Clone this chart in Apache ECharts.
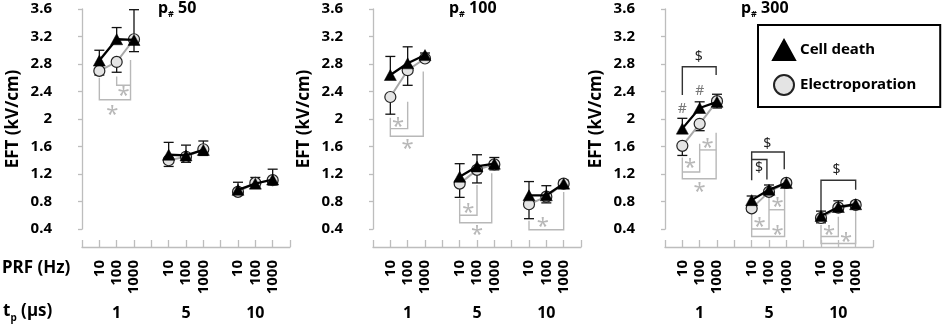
<!DOCTYPE html>
<html>
<head>
<meta charset="utf-8">
<script src="https://cdn.jsdelivr.net/npm/echarts@6/dist/echarts.min.js"></script>
<style>
  html, body { margin: 0; padding: 0; background: #fff; }
  #chart { width: 948px; height: 326px; }
</style>
</head>
<body>
<div id="chart"></div>
<script>
var prfLabels = ['10', '100', '1000'];
var pulseLabels = ['1', '5', '10'];
var pulseCounts = ['50', '100', '300'];
var positions = [1, 2, 3, 5, 6, 7, 9, 10, 11];
var groupCenters = [2, 6, 10];

// p# 50
var cellDeath50 = [2.85, 3.16, 3.15, 1.48, 1.47, 1.55, 0.97, 1.06, 1.12];
var cellDeathErr50 = [0.15, 0.17, 0.44, 0.18, 0.15, 0.13, 0.11, 0.09, 0.15];
var electro50 = [2.70, 2.83, 3.16, 1.40, 1.45, 1.56, 0.94, 1.07, 1.11];
var electroErr50 = [0.06, 0.15, 0.18, 0.09, 0.08, 0.09, 0.04, 0.05, 0.07];
// p# 100
var cellDeath100 = [2.64, 2.81, 2.93, 1.16, 1.31, 1.35, 0.89, 0.89, 1.06];
var cellDeathErr100 = [0.27, 0.24, 0.03, 0.19, 0.17, 0.09, 0.20, 0.14, 0.05];
var electro100 = [2.32, 2.71, 2.88, 1.06, 1.26, 1.34, 0.76, 0.87, 1.06];
var electroErr100 = [0.25, 0.22, 0.02, 0.20, 0.19, 0.08, 0.21, 0.09, 0.04];
// p# 300
var cellDeath300 = [1.86, 2.16, 2.25, 0.82, 0.97, 1.07, 0.59, 0.72, 0.76];
var cellDeathErr300 = [0.15, 0.09, 0.11, 0.06, 0.07, 0.04, 0.07, 0.09, 0.04];
var electro300 = [1.61, 1.93, 2.26, 0.70, 0.94, 1.07, 0.56, 0.71, 0.75];
var electroErr300 = [0.14, 0.10, 0.10, 0.04, 0.05, 0.03, 0.07, 0.05, 0.04];

// significance brackets (x position, EFT level)
var grayBrackets50 = [
    [[1, 2.60], [1, 2.28], [2.8, 2.28], [2.8, 2.86]],
    [[2, 2.62], [2, 2.49], [2.8, 2.49]]
];
var stars50 = [[1.75, 2.13], [2.4, 2.41]];

var grayBrackets100 = [
    [[1, 2.02], [1, 1.75], [2.9, 1.75], [2.9, 2.69]],
    [[2, 2.25], [2, 1.86], [1, 1.86]],
    [[5, 0.84], [5, 0.49], [6.85, 0.49], [6.85, 1.21]],
    [[6, 1.04], [6, 0.60], [5, 0.60]],
    [[9, 0.52], [9, 0.39], [11, 0.39], [11, 0.94]]
];
var stars100 = [[2, 1.64], [1.45, 1.96], [6, 0.39], [5.5, 0.71], [9.8, 0.51]];

var grayBrackets300 = [
    [[1, 1.44], [1, 1.13], [2.95, 1.13], [2.95, 1.80]],
    [[1, 1.23], [2, 1.23], [2, 1.64]],
    [[2, 1.55], [2.95, 1.55]],
    [[5, 0.62], [5, 0.29], [6.9, 0.29], [6.9, 1.02]],
    [[5, 0.40], [6, 0.40], [6, 0.87]],
    [[6, 0.68], [6.9, 0.68]],
    [[9, 0.46], [9, 0.19], [11, 0.19], [11, 0.67]],
    [[9, 0.29], [10, 0.29], [10, 0.58]]
];
var stars300 = [[2, 1.01], [1.45, 1.36], [2.45, 1.66], [5.46, 0.51], [6.49, 0.80], [6.49, 0.39], [9.47, 0.39], [10.45, 0.29]];
var blackBrackets300 = [
    [[1, 2.35], [1, 2.76], [2.95, 2.76], [2.95, 2.64]],
    [[5, 1.11], [5, 1.52], [6.88, 1.52], [6.88, 1.27]],
    [[5, 1.41], [5.88, 1.41], [5.88, 1.12]],
    [[9, 0.63], [9, 1.11], [11, 1.11], [11, 0.97]]
];
var dollars300 = [[1.95, 2.90], [5.9, 1.64], [5.42, 1.29], [9.9, 1.26]];
var hashes300 = [[1, 2.14], [2, 2.40]];

var panels = [
    {count: pulseCounts[0], cd: cellDeath50, cdErr: cellDeathErr50, ep: electro50, epErr: electroErr50,
        gray: grayBrackets50, stars: stars50, black: [], dollars: [], hashes: []},
    {count: pulseCounts[1], cd: cellDeath100, cdErr: cellDeathErr100, ep: electro100, epErr: electroErr100,
        gray: grayBrackets100, stars: stars100, black: [], dollars: [], hashes: []},
    {count: pulseCounts[2], cd: cellDeath300, cdErr: cellDeathErr300, ep: electro300, epErr: electroErr300,
        gray: grayBrackets300, stars: stars300, black: blackBrackets300, dollars: dollars300, hashes: hashes300}
];

var gridLefts = [82, 373, 665];
var FONT = '"Noto Sans", "DejaVu Sans", sans-serif';
var AXIS_GRAY = '#bdbdbd';
var MARK_GRAY = '#b8b8b8';

function lineData(values) {
    var out = [];
    values.forEach(function (v, i) {
        if (i > 0 && i % 3 === 0) {
            out.push([positions[i] - 1, '-']);
        }
        out.push([positions[i], v]);
    });
    return out;
}

function errData(values, errs) {
    return values.map(function (v, i) {
        return [positions[i], v, errs[i]];
    });
}

function errRenderer(dir) {
    return function (params, api) {
        var p0 = api.coord([api.value(0), api.value(1)]);
        var p1 = api.coord([api.value(0), api.value(1) + dir * api.value(2)]);
        var style = {stroke: '#111', lineWidth: 1.3};
        return {
            type: 'group',
            children: [
                {type: 'line', shape: {x1: p0[0], y1: p0[1], x2: p1[0], y2: p1[1]}, style: style},
                {type: 'line', shape: {x1: p1[0] - 5, y1: p1[1], x2: p1[0] + 5, y2: p1[1]}, style: style}
            ]
        };
    };
}

function bracketRenderer(list, color) {
    return function (params, api) {
        var pts = list[api.value(2)].map(function (p) {
            return api.coord(p);
        });
        return {
            type: 'polyline',
            shape: {points: pts},
            style: {stroke: color, lineWidth: 1.4, fill: null}
        };
    };
}

function textRenderer(text, color, size, dy) {
    return function (params, api) {
        var p = api.coord([api.value(0), api.value(1)]);
        return {
            type: 'text',
            x: p[0],
            y: p[1] + dy,
            style: {text: text, fill: color, font: size + 'px ' + FONT, align: 'center', verticalAlign: 'middle'}
        };
    };
}

var grids = [], xAxes = [], yAxes = [], series = [], graphics = [];

panels.forEach(function (pn, k) {
    grids.push({left: gridLefts[k], width: 208, top: 9, height: 220, outerBoundsMode: 'none', containLabel: false});

    // PRF axis
    xAxes.push({
        type: 'value', gridIndex: k, position: 'bottom', min: 0, max: 12, interval: 1, offset: 18,
        axisLine: {show: true, lineStyle: {color: AXIS_GRAY, width: 1.3}},
        axisTick: {show: true, inside: true, length: 7, lineStyle: {color: AXIS_GRAY, width: 1.3}},
        splitLine: {show: false},
        axisLabel: {
            show: true, rotate: 90, margin: 13, color: '#000',
            fontFamily: FONT, fontWeight: 'bold', fontSize: 15,
            formatter: function (v) {
                var i = positions.indexOf(Math.round(v));
                return i < 0 ? '' : prfLabels[i % 3];
            }
        }
    });
    // pulse width axis
    xAxes.push({
        type: 'value', gridIndex: k, position: 'bottom', min: 0, max: 12, interval: 2, offset: 72,
        axisLine: {show: false}, axisTick: {show: false}, splitLine: {show: false},
        axisLabel: {
            show: true, margin: 4, color: '#000',
            fontFamily: FONT, fontWeight: 'bold', fontSize: 16,
            formatter: function (v) {
                var i = groupCenters.indexOf(Math.round(v));
                return i < 0 ? '' : pulseLabels[i];
            }
        }
    });
    yAxes.push({
        type: 'value', gridIndex: k, position: 'left', min: 0.4, max: 3.6, interval: 0.4, offset: 22,
        name: 'EFT (kV/cm)', nameLocation: 'middle', nameGap: 38,
        nameTextStyle: {fontFamily: FONT, fontWeight: 'bold', fontSize: 17, color: '#000'},
        axisLine: {show: true, lineStyle: {color: AXIS_GRAY, width: 1.3}},
        axisTick: {show: true, length: 4, lineStyle: {color: AXIS_GRAY, width: 1.3}},
        splitLine: {show: false},
        axisLabel: {
            margin: 8, color: '#000', fontFamily: FONT, fontWeight: 'bold', fontSize: 15,
            formatter: function (v) {
                return String(Math.round(v * 10) / 10);
            }
        }
    });

    var xi = k * 2;
    series.push({
        type: 'custom', name: 'epErr', xAxisIndex: xi, yAxisIndex: k, z: 1,
        data: errData(pn.ep, pn.epErr), renderItem: errRenderer(-1), silent: true
    });
    series.push({
        type: 'custom', name: 'cdErr', xAxisIndex: xi, yAxisIndex: k, z: 1,
        data: errData(pn.cd, pn.cdErr), renderItem: errRenderer(1), silent: true
    });
    series.push({
        type: 'line', name: 'Electroporation', xAxisIndex: xi, yAxisIndex: k, z: 3,
        data: lineData(pn.ep), connectNulls: false, clip: false,
        symbol: 'circle', symbolSize: 11,
        lineStyle: {color: '#a8a8a8', width: 2},
        itemStyle: {color: '#e4e4e4', borderColor: '#222', borderWidth: 1.2}
    });
    series.push({
        type: 'line', name: 'Cell death', xAxisIndex: xi, yAxisIndex: k, z: 4,
        data: lineData(pn.cd), connectNulls: false, clip: false,
        symbol: 'triangle', symbolSize: [12, 11],
        lineStyle: {color: '#000', width: 2.3},
        itemStyle: {color: '#000', borderColor: '#000', borderWidth: 0.5}
    });
    series.push({
        type: 'custom', xAxisIndex: xi, yAxisIndex: k, z: 0, silent: true,
        data: pn.gray.map(function (b, i) { return [b[0][0], b[0][1], i]; }),
        renderItem: bracketRenderer(pn.gray, MARK_GRAY)
    });
    series.push({
        type: 'custom', xAxisIndex: xi, yAxisIndex: k, z: 0, silent: true,
        data: pn.black.map(function (b, i) { return [b[0][0], b[0][1], i]; }),
        renderItem: bracketRenderer(pn.black, '#333')
    });
    series.push({
        type: 'custom', xAxisIndex: xi, yAxisIndex: k, z: 0, silent: true,
        data: pn.stars, renderItem: textRenderer('*', MARK_GRAY, 22, 5)
    });
    series.push({
        type: 'custom', xAxisIndex: xi, yAxisIndex: k, z: 0, silent: true,
        data: pn.dollars, renderItem: textRenderer('$', '#222', 14, 0)
    });
    series.push({
        type: 'custom', xAxisIndex: xi, yAxisIndex: k, z: 0, silent: true,
        data: pn.hashes, renderItem: textRenderer('#', '#777', 14, 0)
    });

    graphics.push({
        type: 'text', left: gridLefts[k] + 76, top: 0,
        style: {
            text: '{b|p}{s|#}{b| ' + pn.count + '}',
            rich: {
                b: {fontFamily: FONT, fontWeight: 'bold', fontSize: 16, fill: '#000', lineHeight: 22, verticalAlign: 'middle'},
                s: {fontFamily: FONT, fontWeight: 'bold', fontSize: 9, fill: '#000', lineHeight: 22, verticalAlign: 'bottom'}
            }
        }
    });
});

graphics.push({
    type: 'text', left: 2, top: 260,
    style: {text: 'PRF (Hz)', fontFamily: FONT, fontWeight: 'bold', fontSize: 17, fill: '#000'}
});
graphics.push({
    type: 'text', left: 3, top: 303,
    style: {
        text: '{b|t}{s|p}{b| (µs)}',
        rich: {
            b: {fontFamily: FONT, fontWeight: 'bold', fontSize: 17, fill: '#000', lineHeight: 24, verticalAlign: 'middle'},
            s: {fontFamily: FONT, fontWeight: 'bold', fontSize: 10, fill: '#000', lineHeight: 24, verticalAlign: 'bottom'}
        }
    }
});

var chart = echarts.init(document.getElementById('chart'), null, {renderer: 'canvas'});
chart.setOption({
    animation: false,
    backgroundColor: '#fff',
    grid: grids,
    xAxis: xAxes,
    yAxis: yAxes,
    legend: {
        orient: 'vertical', left: 758, top: 25,
        padding: [14, 24, 11, 14], itemGap: 13, itemWidth: 22, itemHeight: 20,
        borderColor: '#000', borderWidth: 2,
        textStyle: {fontFamily: FONT, fontWeight: 'bold', fontSize: 15, color: '#000'},
        data: [{name: 'Cell death', icon: 'triangle'}, {name: 'Electroporation', icon: 'circle'}]
    },
    graphic: graphics,
    series: series
});
</script>
</body>
</html>
